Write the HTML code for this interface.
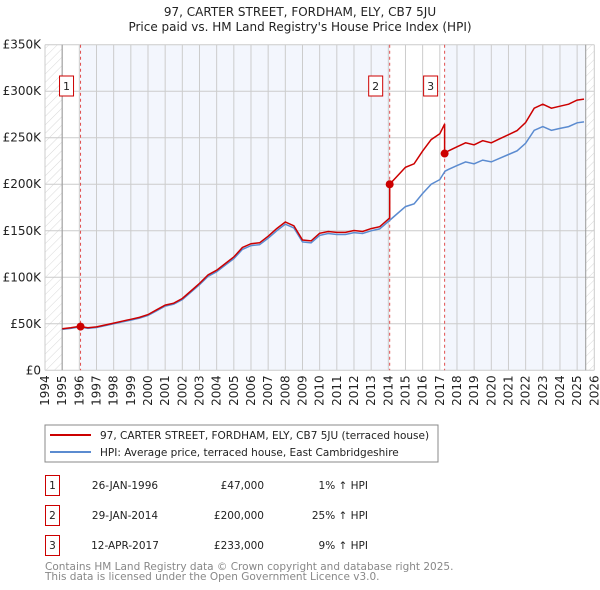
<!DOCTYPE html>
<html><head><meta charset="utf-8"><style>
body{margin:0;background:#fff}
svg{display:block;font-family:"DejaVu Sans","Liberation Sans",sans-serif}
</style></head><body>
<svg id="c" width="600" height="590" xmlns="http://www.w3.org/2000/svg">
<defs><pattern id="hatch" width="6" height="6" patternUnits="userSpaceOnUse" patternTransform="rotate(45)"><line x1="0" y1="0" x2="0" y2="6" stroke="#d8d8d8" stroke-width="1"/></pattern></defs>
<text x="300" y="16" text-anchor="middle" font-size="12" fill="#222">97, CARTER STREET, FORDHAM, ELY, CB7 5JU</text>
<text x="300" y="31" text-anchor="middle" font-size="12" fill="#222">Price paid vs. HM Land Registry's House Price Index (HPI)</text>
<g id="plot"></g>
<g>
<rect x="45" y="425" width="393" height="37" fill="#fff" stroke="#888"/>
<line x1="50" y1="435" x2="91" y2="435" stroke="#cc0000" stroke-width="2"/>
<text x="100" y="439" font-size="10.5" fill="#222">97, CARTER STREET, FORDHAM, ELY, CB7 5JU (terraced house)</text>
<line x1="50" y1="452" x2="91" y2="452" stroke="#5b8bd0" stroke-width="2"/>
<text x="100" y="456" font-size="10.5" fill="#222">HPI: Average price, terraced house, East Cambridgeshire</text>
</g>
<g id="table"></g>
<text x="45" y="570" font-size="10.5" fill="#888">Contains HM Land Registry data © Crown copyright and database right 2025.</text>
<text x="45" y="580" font-size="10.5" fill="#888">This data is licensed under the Open Government Licence v3.0.</text>
</svg>
<script>
const hpiYears=[1995.0,1995.5,1996.0,1996.5,1997,1997.5,1998,1998.5,1999,1999.5,2000,2000.5,2001,2001.5,2002,2002.5,2003,2003.5,2004,2004.5,2005,2005.5,2006,2006.5,2007,2007.5,2008,2008.5,2009,2009.5,2010,2010.5,2011,2011.5,2012,2012.5,2013,2013.5,2014.0,2014.5,2015,2015.5,2016,2016.5,2017,2017.3,2017.5,2018,2018.5,2019,2019.5,2020,2020.5,2021,2021.5,2022,2022.5,2023,2023.5,2024,2024.5,2025,2025.4];
const hpiValues=[44,45,46.5,45,46,48,50,52,54,56,59,64,69,71,76,84,92,101,106,113,120,130,134,135,142,150,157,153,138,137,145,147,146,146,148,147,150,152,160,168,176,179,190,200,205,214,216,220,224,222,226,224,228,232,236,244,258,262,258,260,262,266,267];
const saleDates=[1996.07,2014.08,2017.28];
const salePrices=[47,200,233];
const saleLabels=["1","2","3"];
const saleDateText=["26-JAN-1996","29-JAN-2014","12-APR-2017"];
const salePriceText=["£47,000","£200,000","£233,000"];
const salePctText=["1% ↑ HPI","25% ↑ HPI","9% ↑ HPI"];
const yTicks=[0,50,100,150,200,250,300,350];
const yTickLabels=["£0","£50K","£100K","£150K","£200K","£250K","£300K","£350K"];
const xTicks=[1994,1995,1996,1997,1998,1999,2000,2001,2002,2003,2004,2005,2006,2007,2008,2009,2010,2011,2012,2013,2014,2015,2016,2017,2018,2019,2020,2021,2022,2023,2024,2025,2026];

const X0=45,X1=594.3,Y0=370.3,Y1=44.7;
const xs=v=>X0+(v-1994)/(2026-1994)*(X1-X0);
const ys=v=>Y0-(v/350)*(Y0-Y1);
const NS="http://www.w3.org/2000/svg";
const plot=document.getElementById('plot');
function mk(tag,attrs,parent){const e=document.createElementNS(NS,tag);for(const k in attrs)e.setAttribute(k,attrs[k]);(parent||plot).appendChild(e);return e;}
function hpiAt(t){for(let i=0;i<hpiYears.length-1;i++){if(t>=hpiYears[i]&&t<=hpiYears[i+1]){const f=(t-hpiYears[i])/(hpiYears[i+1]-hpiYears[i]);return hpiValues[i]+f*(hpiValues[i+1]-hpiValues[i]);}}return hpiValues[hpiValues.length-1];}

let r;
r=mk('rect',{x:xs(1994),y:Y1,width:xs(1995)-xs(1994),height:Y0-Y1,fill:'url(#hatch)'});

const endT=hpiYears[hpiYears.length-1]+0.1;
r=mk('rect',{x:xs(endT),y:Y1,width:xs(2026)-xs(endT),height:Y0-Y1,fill:'url(#hatch)'});

r=mk('rect',{x:xs(saleDates[0]),y:Y1,width:xs(saleDates[1])-xs(saleDates[0]),height:Y0-Y1,fill:'#f3f6fd'});

r=mk('rect',{x:xs(saleDates[2]),y:Y1,width:xs(endT)-xs(saleDates[2]),height:Y0-Y1,fill:'#f3f6fd'});


yTicks.forEach((v,i)=>{
  const l=mk('line',{x1:X0,x2:X1,y1:ys(v),y2:ys(v),stroke:'#ccc','stroke-width':1});
  
  const t=mk('text',{x:X0-4,y:ys(v)+4,'text-anchor':'end','font-size':12,fill:'#222'});
  t.textContent=yTickLabels[i];
  
});
xTicks.forEach(v=>{
  const l=mk('line',{x1:xs(v),x2:xs(v),y1:Y1,y2:Y0,stroke:'#ccc','stroke-width':1});
  
  const t=mk('text',{x:0,y:0,'text-anchor':'end','font-size':12,fill:'#222',transform:`translate(${xs(v)+4},${Y0+5}) rotate(-90)`});
  t.textContent=v;
  
});
let a=mk('line',{x1:xs(1995),x2:xs(1995),y1:Y1,y2:Y0,stroke:'#999','stroke-width':1});

a=mk('line',{x1:xs(endT),x2:xs(endT),y1:Y1,y2:Y0,stroke:'#999','stroke-width':1});


saleDates.forEach((d,i)=>{
  const l=mk('line',{x1:xs(d),x2:xs(d),y1:Y1,y2:Y0,stroke:'#e05050','stroke-width':1,'stroke-dasharray':'3,3'});
  
  const b=mk('rect',{x:xs(d)-21,y:76,width:14,height:20,fill:'#fff',stroke:'#cc0000','stroke-width':1});
  
  const t=mk('text',{x:xs(d)-14,y:90,'text-anchor':'middle','font-size':11,fill:'#222'});
  t.textContent=saleLabels[i];
  
});

let p=hpiYears.map((t,i)=>(i?'L':'M')+xs(t).toFixed(1)+','+ys(hpiValues[i]).toFixed(1)).join('');
let hl=mk('path',{d:p,fill:'none',stroke:'#5b8bd0','stroke-width':1.5});


let pts=[];
hpiYears.forEach((t,i)=>{
  let k=-1;for(let j=0;j<saleDates.length;j++)if(t>=saleDates[j])k=j;
  if(k<0)k=0;
  const f=salePrices[k]/hpiAt(saleDates[k]);
  pts.push([t,hpiValues[i]*f]);
});
let seq=[];
hpiYears.forEach((t,i)=>{
  saleDates.forEach((d,j)=>{
    if(i>0&&d>hpiYears[i-1]&&d<=t){
      const fprev=j>0?salePrices[j-1]/hpiAt(saleDates[j-1]):salePrices[0]/hpiAt(saleDates[0]);
      seq.push([d,hpiAt(d)*fprev]);seq.push([d,salePrices[j]]);
    }
  });
  seq.push(pts[i]);
});
p=seq.map((q,i)=>(i?'L':'M')+xs(q[0]).toFixed(1)+','+ys(q[1]).toFixed(1)).join('');
let rl=mk('path',{d:p,fill:'none',stroke:'#cc0000','stroke-width':1.5});

saleDates.forEach((d,i)=>{
  const c=mk('circle',{cx:xs(d),cy:ys(salePrices[i]),r:4,fill:'#cc0000'});
  
});

const tb=document.getElementById('table');
saleLabels.forEach((s,i)=>{
  const y=475+i*30;
  const b=mk('rect',{x:45.5,y:y+0.5,width:14,height:20,fill:'#fff',stroke:'#cc0000'},tb);
  
  let t=mk('text',{x:52.5,y:y+14,'text-anchor':'middle','font-size':10.5,fill:'#222'},tb);t.textContent=s;
  
  t=mk('text',{x:125,y:y+14,'text-anchor':'middle','font-size':10.5,fill:'#222'},tb);t.textContent=saleDateText[i];
  
  t=mk('text',{x:264,y:y+14,'text-anchor':'end','font-size':10.5,fill:'#222'},tb);t.textContent=salePriceText[i];
  
  t=mk('text',{x:368,y:y+14,'text-anchor':'end','font-size':10.5,fill:'#222'},tb);t.textContent=salePctText[i];
  
});
</script>
</body></html>
